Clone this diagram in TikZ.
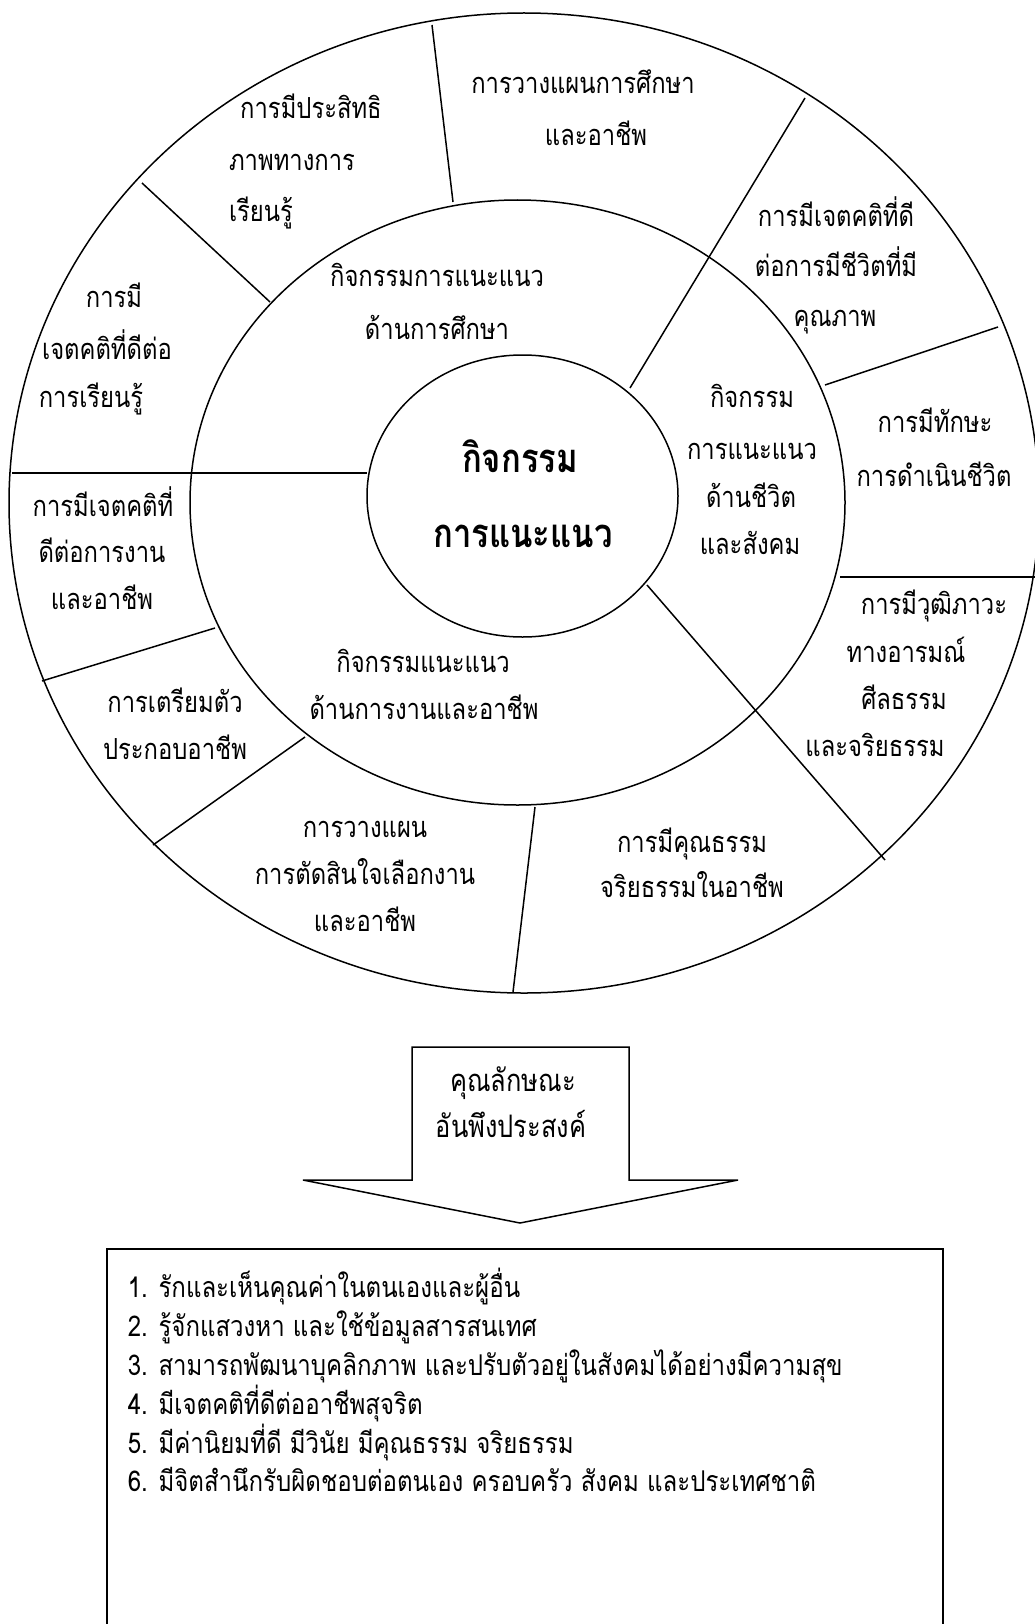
\documentclass[tikz,border=0pt]{standalone}
\usepackage{fontspec}
\newfontfamily\thaiR[Script=Thai,FakeStretch=0.82]{Loma}
\newfontfamily\thaiL[Script=Thai,FakeStretch=0.84]{Loma}
\begin{document}
\begin{tikzpicture}[x=1pt,y=-1pt,line width=1.5pt,
  ringtxt/.style={anchor=base,inner sep=0pt,font=\thaiR\fontsize{29}{36}\selectfont},
  listtxt/.style={anchor=base west,inner sep=0pt,font=\thaiL\fontsize{28.6}{36}\selectfont},
  centertxt/.style={anchor=base,inner sep=0pt,font=\thaiR\bfseries\fontsize{40}{48}\selectfont},
  arrowtxt/.style={anchor=base,inner sep=0pt,font=\thaiR\fontsize{31}{38}\selectfont},
  seg/.style={line width=1.5pt}]
\useasboundingbox (0,0) rectangle (1034,1624);
\fill[white] (0,0) rectangle (1034,1624);
% rings
\draw[seg] (524,503) ellipse [x radius=515pt, y radius=490pt];
\draw[seg] (517.5,502.5) ellipse [x radius=327.5pt, y radius=302.5pt];
\draw[seg] (522.5,496) ellipse [x radius=155.5pt, y radius=141pt];
% radial dividers
\coordinate (l1a) at (432,25);   \coordinate (l1b) at (453,202);
\coordinate (l2a) at (142,183);  \coordinate (l2b) at (270,302);
\coordinate (l3a) at (12,473);   \coordinate (l3b) at (367,473);
\coordinate (l4a) at (805,98);   \coordinate (l4b) at (630,388);
\coordinate (l5a) at (998,327);  \coordinate (l5b) at (825,385);
\coordinate (l6a) at (840,577);  \coordinate (l6b) at (1040,577);
\coordinate (l7a) at (647,585);  \coordinate (l7b) at (885,860);
\coordinate (l8a) at (535,807);  \coordinate (l8b) at (513,992);
\coordinate (l9a) at (305,737);  \coordinate (l9b) at (153,845);
\coordinate (l10a) at (215,628); \coordinate (l10b) at (42,681);
\foreach \i in {1,...,10} \draw[seg] (l\i a) -- (l\i b);
% outer ring labels
\node[ringtxt] (tA1) at (311,119) {การมีประสิทธิ};
\node[ringtxt] (tA2) at (292,171) {ภาพทางการ};
\node[ringtxt] (tA3) at (261,222) {เรียนรู้};
\node[ringtxt] (tB1) at (114,307) {การมี};
\node[ringtxt] (tB2) at (107,359) {เจตคติที่ดีต่อ};
\node[ringtxt] (tB3) at (91,407) {การเรียนรู้};
\node[ringtxt] (tC1) at (583,94) {การวางแผนการศึกษา};
\node[ringtxt] (tC2) at (596,146) {และอาชีพ};
\node[ringtxt] (tD1) at (836,226) {การมีเจตคติที่ดี};
\node[ringtxt] (tD2) at (836,276) {ต่อการมีชีวิตที่มี};
\node[ringtxt] (tD3) at (835,326) {คุณภาพ};
\node[ringtxt] (tE1) at (935,432) {การมีทักษะ};
\node[ringtxt] (tE2) at (934,486) {การดำเนินชีวิต};
\node[ringtxt] (tF1) at (934,614) {การมีวุฒิภาวะ};
\node[ringtxt] (tF2) at (906,662) {ทางอารมณ์};
\node[ringtxt] (tF3) at (904,709) {ศีลธรรม};
\node[ringtxt] (tF4) at (875,756) {และจริยธรรม};
\node[ringtxt] (tG1) at (692,852) {การมีคุณธรรม};
\node[ringtxt] (tG2) at (692,897) {จริยธรรมในอาชีพ};
\node[ringtxt] (tH1) at (365,837) {การวางแผน};
\node[ringtxt] (tH2) at (365,884) {การตัดสินใจเลือกงาน};
\node[ringtxt] (tH3) at (365,931) {และอาชีพ};
\node[ringtxt] (tI1) at (175,712) {การเตรียมตัว};
\node[ringtxt] (tI2) at (175,759) {ประกอบอาชีพ};
\node[ringtxt] (tJ1) at (103,516) {การมีเจตคติที่};
\node[ringtxt] (tJ2) at (102,562) {ดีต่อการงาน};
\node[ringtxt] (tJ3) at (102,609) {และอาชีพ};
% middle ring labels
\node[ringtxt] (mA1) at (437,286) {กิจกรรมการแนะแนว};
\node[ringtxt] (mA2) at (437,339) {ด้านการศึกษา};
\node[ringtxt] (mB1) at (752,407) {กิจกรรม};
\node[ringtxt] (mB2) at (752,459) {การแนะแนว};
\node[ringtxt] (mB3) at (751,507) {ด้านชีวิต};
\node[ringtxt] (mB4) at (750,554) {และสังคม};
\node[ringtxt] (mC1) at (423,672) {กิจกรรมแนะแนว};
\node[ringtxt] (mC2) at (424,719) {ด้านการงานและอาชีพ};
% centre
\node[centertxt] (c1) at (520,472) {กิจกรรม};
\node[centertxt] (c2) at (523,547) {การแนะแนว};
% arrow
\coordinate (a1) at (412,1047); \coordinate (a2) at (629,1047);
\coordinate (a3) at (629,1180); \coordinate (a4) at (738,1180);
\coordinate (a5) at (520,1223); \coordinate (a6) at (303,1180);
\coordinate (a7) at (412,1180);
\draw[seg,line join=miter] (a1) -- (a2) -- (a3) -- (a4) -- (a5) -- (a6) -- (a7) -- cycle;
\node[arrowtxt] (ar1) at (513,1091) {คุณลักษณะ};
\node[arrowtxt] (ar2) at (511,1137) {อันพึงประสงค์};
% list box
\node[draw,seg,rectangle,anchor=north west,inner sep=0pt,minimum width=836pt,minimum height=420pt] (list) at (106,1248) {};
\node[listtxt] (i1) at (127,1297) {1. รักและเห็นคุณค่าในตนเองและผู้อื่น};
\node[listtxt] (i2) at (127,1336) {2. รู้จักแสวงหา และใช้ข้อมูลสารสนเทศ};
\node[listtxt] (i3) at (127,1375) {3. สามารถพัฒนาบุคลิกภาพ และปรับตัวอยู่ในสังคมได้อย่างมีความสุข};
\node[listtxt] (i4) at (127,1414) {4. มีเจตคติที่ดีต่ออาชีพสุจริต};
\node[listtxt] (i5) at (127,1453) {5. มีค่านิยมที่ดี มีวินัย มีคุณธรรม จริยธรรม};
\node[listtxt] (i6) at (127,1491) {6. มีจิตสำนึกรับผิดชอบต่อตนเอง ครอบครัว สังคม และประเทศชาติ};
\end{tikzpicture}
\end{document}
